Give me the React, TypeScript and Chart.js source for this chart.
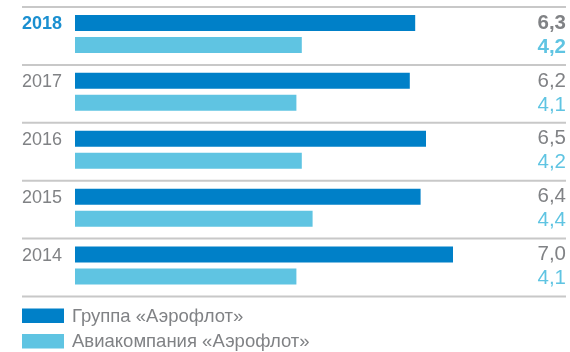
import React, { useEffect, useRef } from "react";
import { Chart, registerables } from "chart.js";

Chart.register(...registerables);

const years = ["2018", "2017", "2016", "2015", "2014"];
const groupValues = [6.3, 6.2, 6.5, 6.4, 7.0];
const airlineValues = [4.2, 4.1, 4.2, 4.4, 4.1];
const seriesNames = ["Группа «Аэрофлот»", "Авиакомпания «Аэрофлот»"];
const highlightYear = "2018";

const DARK = "#0080C8";
const LIGHT = "#5FC4E2";
const GRAY = "#808285";
const HILITE = "#1A8FD0";
const LINE = "#C8C8C8";
const FONT = "'Liberation Sans', Arial, sans-serif";

const fmt = (v: number) => v.toFixed(1).replace(".", ",");

const decorPlugin = {
  id: "decor",
  afterDatasetsDraw(chart: any) {
    const ctx = chart.ctx;
    const area = chart.chartArea;
    const n = chart.data.labels.length;
    const band = (area.bottom - area.top) / n;
    ctx.save();
    // separators
    ctx.strokeStyle = LINE;
    ctx.lineWidth = 2;
    for (let i = 0; i <= n; i++) {
      const y = area.top + band * i + 2;
      ctx.beginPath();
      ctx.moveTo(22, y);
      ctx.lineTo(566, y);
      ctx.stroke();
    }
    const m0 = chart.getDatasetMeta(0);
    const m1 = chart.getDatasetMeta(1);
    for (let i = 0; i < n; i++) {
      const label = chart.data.labels[i];
      const hi = label === highlightYear;
      const y0 = m0.data[i].y;
      const y1 = m1.data[i].y;
      // year label
      ctx.textBaseline = "middle";
      ctx.textAlign = "left";
      ctx.font = `${hi ? "bold " : ""}18px ${FONT}`;
      ctx.fillStyle = hi ? HILITE : GRAY;
      ctx.fillText(label, 22, y0 + 1);
      // values
      ctx.textAlign = "right";
      ctx.font = `${hi ? "bold " : ""}20.5px ${FONT}`;
      ctx.fillStyle = GRAY;
      ctx.fillText(fmt(chart.data.datasets[0].data[i]), 566, y0);
      ctx.fillStyle = LIGHT;
      ctx.fillText(fmt(chart.data.datasets[1].data[i]), 566, y1 + 2);
    }
    // legend
    const legendY = [315.5, 341];
    chart.data.datasets.forEach((ds: any, k: number) => {
      ctx.fillStyle = ds.backgroundColor;
      ctx.fillRect(22, legendY[k] - 7, 42, 14.5);
      ctx.fillStyle = GRAY;
      ctx.textAlign = "left";
      ctx.textBaseline = "middle";
      ctx.font = `18.5px ${FONT}`;
      ctx.fillText(ds.label, 72, legendY[k] + 1);
    });
    ctx.restore();
  },
};

export default function App() {
  const ref = useRef<HTMLCanvasElement | null>(null);
  useEffect(() => {
    document.body.style.margin = "0";
    if (!ref.current) return;
    const chart = new Chart(ref.current, {
      type: "bar",
      data: {
        labels: years,
        datasets: [
          {
            label: seriesNames[0],
            data: groupValues,
            backgroundColor: DARK,
            categoryPercentage: 0.76,
            barPercentage: 0.727,
          },
          {
            label: seriesNames[1],
            data: airlineValues,
            backgroundColor: LIGHT,
            categoryPercentage: 0.76,
            barPercentage: 0.727,
          },
        ],
      },
      options: {
        indexAxis: "y",
        animation: false,
        responsive: true,
        maintainAspectRatio: false,
        layout: { padding: { left: 75, right: 9, top: 5, bottom: 57.5 } },
        scales: {
          x: { display: false, min: 0, max: 9 },
          y: { display: false },
        },
        plugins: {
          legend: { display: false },
          tooltip: { enabled: false },
        },
      },
      plugins: [decorPlugin],
    } as any);
    return () => chart.destroy();
  }, []);
  return (
    <div style={{ width: 570, height: 352, position: "relative" }}>
      <canvas ref={ref} />
    </div>
  );
}
